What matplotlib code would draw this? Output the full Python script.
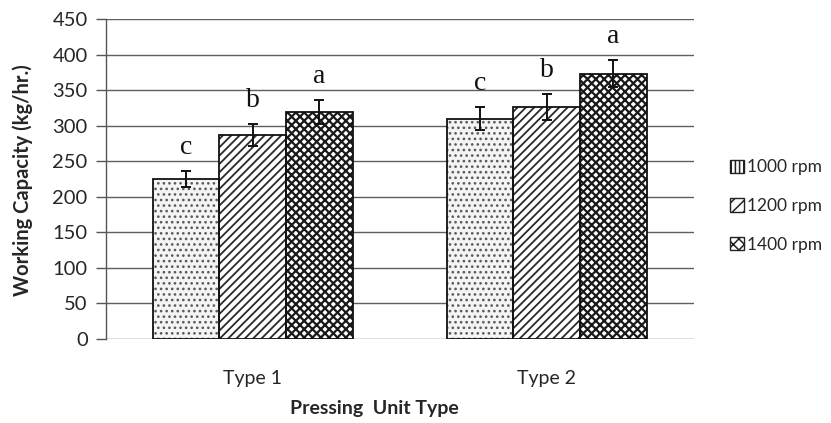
import matplotlib
matplotlib.use("Agg")
import matplotlib.pyplot as plt
import numpy as np
from matplotlib.patches import Patch

# Working capacity of the two pressing units at three drum speeds
categories = ["Type 1", "Type 2"]
series_names = ["1000 rpm", "1200 rpm", "1400 rpm"]
capacity = {
    "1000 rpm": [225, 310],
    "1200 rpm": [287, 326],
    "1400 rpm": [319, 373],
}
errors = {
    "1000 rpm": [11, 16],
    "1200 rpm": [15, 18],
    "1400 rpm": [17, 19],
}
letters = {
    "1000 rpm": ["c", "c"],
    "1200 rpm": ["b", "b"],
    "1400 rpm": ["a", "a"],
}
y_ticks = [0, 50, 100, 150, 200, 250, 300, 350, 400, 450]

plt.rcParams["font.family"] = ["Lato", "DejaVu Sans"]
plt.rcParams["hatch.linewidth"] = 1.1

styles = {
    "1000 rpm": dict(face="#f4f4f4", hatch="...", hcol="#5a5a5a", hlw=1.1, leg_hatch="||||"),
    "1200 rpm": dict(face="#ffffff", hatch="////", hcol="#2a2a2a", hlw=1.3, leg_hatch="///"),
    "1400 rpm": dict(face="#ffffff", hatch="xxxx", hcol="#1a1a1a", hlw=1.6, leg_hatch="xxx"),
}

text_col = "#262626"

fig = plt.figure(figsize=(8.31, 4.23), dpi=100)
ax = fig.add_axes([0.1272, 0.1986, 0.7076, 0.7565])

x = np.arange(len(categories))
width = 0.227
offsets = [-width, 0, width]

for off, name in zip(offsets, series_names):
    st = styles[name]
    vals = capacity[name]
    # hatched fill
    fill = ax.bar(x + off, vals, width, color=st["face"], edgecolor=st["hcol"],
                  hatch=st["hatch"], linewidth=0, zorder=3)
    for p in fill.patches:
        if hasattr(p, "set_hatch_linewidth"):
            p.set_hatch_linewidth(st["hlw"])
    # black outline
    ax.bar(x + off, vals, width, fill=False, edgecolor="#111111",
           linewidth=1.3, zorder=4)
    ax.errorbar(x + off, vals, yerr=errors[name], fmt="none", ecolor="#111111",
                elinewidth=1.4, capsize=3.6, capthick=1.4, zorder=5)
    for xi, v, e, lab in zip(x + off, vals, errors[name], letters[name]):
        ax.annotate(lab, (xi, v + e), xytext=(0, 17), textcoords="offset points",
                    ha="center", va="center", fontsize=20,
                    family=["Liberation Serif", "DejaVu Serif"], color="#111111")

ax.set_xlim(-0.5, 1.5)
ax.set_ylim(0, 450)
ax.set_yticks(y_ticks)
ax.set_yticklabels([str(t) for t in y_ticks], fontsize=14.5, color=text_col)
ax.set_xticks(x)
ax.set_xticklabels(categories, fontsize=14, color=text_col)
ax.tick_params(axis="x", length=0, pad=22)
ax.tick_params(axis="y", direction="out", length=7, width=1.0, color="#555555", pad=6)

ax.yaxis.grid(True, color="#5e5e5e", linewidth=1.0, zorder=0)
ax.set_axisbelow(True)
for side in ["top", "right", "bottom"]:
    ax.spines[side].set_visible(False)
ax.spines["left"].set_color("#555555")
ax.spines["left"].set_linewidth(1.0)

fig.text(0.027, 0.575, "Working Capacity (kg/hr.)", rotation=90, ha="center",
         va="center", fontsize=14.5, fontweight="bold", color=text_col)
fig.text(0.45, 0.035, "Pressing  Unit Type", ha="center", va="center",
         fontsize=14, fontweight="bold", color=text_col)

handles = [Patch(facecolor="white", edgecolor="#222222", hatch=styles[n]["leg_hatch"],
                 linewidth=1.0, label=n) for n in series_names]
fig.legend(handles=handles, loc="center left", bbox_to_anchor=(0.870, 0.513),
           frameon=False, fontsize=12.5, handlelength=0.8, handleheight=0.8,
           handletextpad=0.2, labelspacing=1.3, borderaxespad=0, labelcolor=text_col)

fig.savefig("out.png", dpi=100)
